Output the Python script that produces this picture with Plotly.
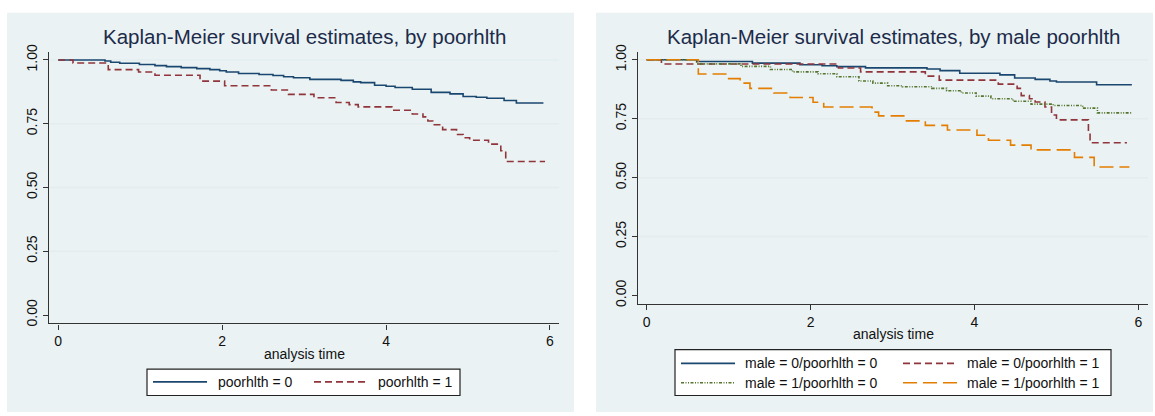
import plotly.graph_objects as go

# ---------------- data ----------------
# Left panel: by poorhlth
t_poor0 = [0, 0.57, 0.64, 0.75, 0.99, 1.18, 1.32, 1.50, 1.69, 1.85, 1.97, 2.05, 2.20, 2.45,
           2.62, 2.75, 2.87, 3.07, 3.45, 3.60, 3.69, 3.86, 4.00, 4.11, 4.32, 4.55, 4.78,
           4.94, 5.10, 5.23, 5.44, 5.59, 5.92]
s_poor0 = [1.000, 0.996, 0.991, 0.987, 0.982, 0.978, 0.974, 0.970, 0.966, 0.962, 0.958, 0.953,
           0.947, 0.943, 0.939, 0.934, 0.930, 0.924, 0.920, 0.914, 0.911, 0.901, 0.897, 0.892,
           0.885, 0.873, 0.867, 0.857, 0.854, 0.850, 0.841, 0.831, 0.831]

t_poor1 = [0, 0.18, 0.61, 0.98, 1.18, 1.73, 2.03, 2.60, 2.81, 3.12, 3.39, 3.55, 3.66, 4.07,
           4.32, 4.45, 4.51, 4.57, 4.69, 4.86, 4.94, 5.02, 5.25, 5.40, 5.46, 5.94]
s_poor1 = [1.000, 0.988, 0.962, 0.953, 0.940, 0.917, 0.899, 0.882, 0.865, 0.852, 0.833, 0.825,
           0.816, 0.803, 0.788, 0.777, 0.761, 0.746, 0.727, 0.708, 0.695, 0.685, 0.670, 0.644,
           0.602, 0.602]

# Right panel: by male poorhlth
t_m0p0 = [0, 0.61, 1.29, 1.87, 2.14, 2.32, 2.67, 3.42, 3.58, 3.82, 4.31, 4.49, 4.74, 4.92,
          5.00, 5.49, 5.92]
s_m0p0 = [1.000, 0.993, 0.986, 0.979, 0.975, 0.971, 0.966, 0.961, 0.954, 0.943, 0.936, 0.923,
          0.917, 0.910, 0.906, 0.894, 0.894]

t_m0p1 = [0, 0.18, 2.34, 2.61, 3.40, 3.57, 4.29, 4.52, 4.57, 4.67, 4.74, 4.86, 4.94, 5.00,
          5.39, 5.41, 5.86]
s_m0p1 = [1.000, 0.982, 0.965, 0.949, 0.931, 0.914, 0.897, 0.879, 0.848, 0.835, 0.821, 0.800,
          0.766, 0.745, 0.697, 0.648, 0.648]

t_m1p0 = [0, 0.61, 1.15, 1.51, 1.78, 2.09, 2.32, 2.59, 2.76, 2.94, 3.12, 3.48, 3.66, 3.84,
          4.02, 4.20, 4.47, 4.69, 4.96, 5.32, 5.50, 5.92]
s_m1p0 = [1.000, 0.983, 0.972, 0.959, 0.949, 0.941, 0.928, 0.910, 0.901, 0.890, 0.886, 0.879,
          0.869, 0.859, 0.846, 0.835, 0.824, 0.812, 0.806, 0.795, 0.775, 0.775]

t_m1p1 = [0, 0.63, 0.98, 1.14, 1.26, 1.55, 1.75, 2.03, 2.16, 2.75, 2.83, 3.15, 3.40, 3.67,
          4.03, 4.17, 4.44, 4.69, 5.22, 5.46, 5.89]
s_m1p1 = [1.000, 0.940, 0.920, 0.901, 0.879, 0.859, 0.840, 0.820, 0.800, 0.778, 0.762, 0.741,
          0.722, 0.702, 0.680, 0.659, 0.638, 0.618, 0.586, 0.545, 0.545]

x_ticks = [0, 2, 4, 6]
y_ticks = [0, 0.25, 0.5, 0.75, 1.0]
y_ticklabels = ["0.00", "0.25", "0.50", "0.75", "1.00"]
y_gridlines = [0.25, 0.5, 0.75, 1.0]

title_left = "Kaplan-Meier survival estimates, by poorhlth"
title_right = "Kaplan-Meier survival estimates, by male poorhlth"
x_title = "analysis time"
names_left = ["poorhlth = 0", "poorhlth = 1"]
names_right = ["male = 0/poorhlth = 0", "male = 0/poorhlth = 1",
               "male = 1/poorhlth = 0", "male = 1/poorhlth = 1"]

# ---------------- styling ----------------
W, H = 1155, 416
NAVY, MAROON, GREEN, ORANGE = "#1a476f", "#90353b", "#55752f", "#e37e00"
PANEL_BG = "#eaf2f3"
GRID = "#e3ecef"
AXIS = "#333333"
TXT = "#111111"
TITLE_C = "#1c2b4a"
FONT = "Liberation Sans, Arial, sans-serif"
LW = 1.6
DASH_M = "7px,4px"
DASH_G = "3px,1.5px,1px,1.5px,1px,1.5px"
DASH_O = "14px,6px"


def px(x):
    return x / W


def py(y):
    return 1 - y / H


fig = go.Figure()

left_series = [(t_poor0, s_poor0, names_left[0], NAVY, "solid"),
               (t_poor1, s_poor1, names_left[1], MAROON, DASH_M)]
for t, s, n, c, d in left_series:
    fig.add_trace(go.Scatter(x=t, y=s, name=n, mode="lines", line_shape="hv",
                             line=dict(color=c, width=LW, dash=d),
                             xaxis="x", yaxis="y", showlegend=False))

right_series = [(t_m0p0, s_m0p0, names_right[0], NAVY, "solid"),
                (t_m0p1, s_m0p1, names_right[1], MAROON, DASH_M),
                (t_m1p0, s_m1p0, names_right[2], GREEN, DASH_G),
                (t_m1p1, s_m1p1, names_right[3], ORANGE, DASH_O)]
for t, s, n, c, d in right_series:
    fig.add_trace(go.Scatter(x=t, y=s, name=n, mode="lines", line_shape="hv",
                             line=dict(color=c, width=LW, dash=d),
                             xaxis="x2", yaxis="y2", showlegend=False))

xcommon = dict(tickvals=x_ticks, ticks="outside", ticklen=5, tickwidth=1.2, tickcolor=AXIS,
               showline=True, linecolor=AXIS, linewidth=1.2, showgrid=False, zeroline=False,
               tickfont=dict(size=14, color=TXT, family=FONT), fixedrange=True)
ycommon = dict(tickvals=y_ticks, ticktext=y_ticklabels, tickangle=-90, ticks="outside",
               ticklen=5, tickwidth=1.2, tickcolor=AXIS, showline=True, linecolor=AXIS,
               linewidth=1.2, showgrid=False, zeroline=False,
               tickfont=dict(size=14, color=TXT, family=FONT), fixedrange=True)

# plot areas (pixels): left x 49-559, y 45-324 ; right x 638-1148, y 45-304
fig.update_layout(
    xaxis=dict(domain=[px(49), px(559)], range=[-0.113, 6.11], anchor="y", **xcommon),
    yaxis=dict(domain=[py(324), py(45)], range=[-0.033, 1.032], anchor="x", **ycommon),
    xaxis2=dict(domain=[px(638), px(1148)], range=[-0.106, 6.117], anchor="y2", **xcommon),
    yaxis2=dict(domain=[py(304), py(45)], range=[-0.036, 1.034], anchor="x2", **ycommon),
)

shapes = [
    dict(type="rect", xref="paper", yref="paper", x0=px(7), x1=px(574), y0=py(415), y1=py(5),
         fillcolor=PANEL_BG, line=dict(width=0), layer="below"),
    dict(type="rect", xref="paper", yref="paper", x0=px(596), x1=px(1153), y0=py(415), y1=py(5),
         fillcolor=PANEL_BG, line=dict(width=0), layer="below"),
    # legend boxes
    dict(type="rect", xref="paper", yref="paper", x0=px(147), x1=px(460), y0=py(398), y1=py(371),
         fillcolor="white", line=dict(color="#222222", width=1.2), layer="above"),
    dict(type="rect", xref="paper", yref="paper", x0=px(675), x1=px(1111), y0=py(398), y1=py(351),
         fillcolor="white", line=dict(color="#222222", width=1.2), layer="above"),
]

# light horizontal grid lines
for xr, yr in (("x domain", "y"), ("x2 domain", "y2")):
    for g in y_gridlines:
        shapes.append(dict(type="line", xref=xr, yref=yr, x0=0, x1=1, y0=g, y1=g,
                           line=dict(color=GRID, width=1.5), layer="below"))

annotations = [
    dict(text=title_left, x=px(304), y=py(29), xref="paper", yref="paper", showarrow=False,
         xanchor="center", yanchor="middle", font=dict(size=20.5, color=TITLE_C, family=FONT)),
    dict(text=title_right, x=px(893), y=py(29), xref="paper", yref="paper", showarrow=False,
         xanchor="center", yanchor="middle", font=dict(size=20.5, color=TITLE_C, family=FONT)),
    dict(text=x_title, x=px(304), y=py(355), xref="paper", yref="paper", showarrow=False,
         xanchor="center", yanchor="middle", font=dict(size=14, color=TXT, family=FONT)),
    dict(text=x_title, x=px(893), y=py(335), xref="paper", yref="paper", showarrow=False,
         xanchor="center", yanchor="middle", font=dict(size=14, color=TXT, family=FONT)),
]

# legend entries (left: one row; right: 2x2)
left_leg = [(153, 207, 216, 384), (314, 368, 376, 384)]
for (sx0, sx1, tx, ly), (_, _, n, c, d) in zip(left_leg, left_series):
    shapes.append(dict(type="line", xref="paper", yref="paper", x0=px(sx0), x1=px(sx1),
                       y0=py(ly), y1=py(ly), line=dict(color=c, width=LW, dash=d), layer="above"))
    annotations.append(dict(text=n, x=px(tx), y=py(ly), xref="paper", yref="paper",
                            showarrow=False, xanchor="left", yanchor="middle",
                            font=dict(size=14, color=TXT, family=FONT)))

right_leg = [(681, 735, 743, 365), (903, 957, 965, 365), (681, 735, 743, 385), (903, 957, 965, 385)]
for (sx0, sx1, tx, ly), (_, _, n, c, d) in zip(right_leg, right_series):
    shapes.append(dict(type="line", xref="paper", yref="paper", x0=px(sx0), x1=px(sx1),
                       y0=py(ly), y1=py(ly), line=dict(color=c, width=LW, dash=d), layer="above"))
    annotations.append(dict(text=n, x=px(tx), y=py(ly), xref="paper", yref="paper",
                            showarrow=False, xanchor="left", yanchor="middle",
                            font=dict(size=14, color=TXT, family=FONT)))

fig.update_layout(
    width=W, height=H, margin=dict(l=0, r=0, t=0, b=0, pad=0),
    paper_bgcolor="white", plot_bgcolor="white",
    font=dict(family=FONT, color=TXT),
    shapes=shapes, annotations=annotations, showlegend=False,
)

fig.write_html("out.html", config={"displayModeBar": False},
               post_script="document.body.style.margin='0';")
